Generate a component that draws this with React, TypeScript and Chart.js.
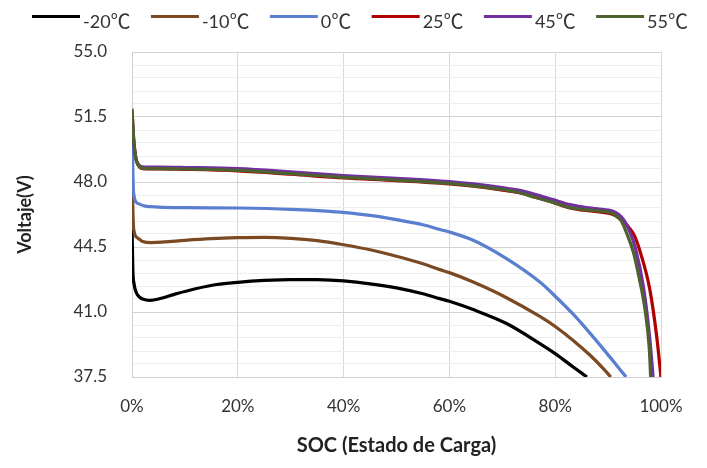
import { useEffect, useRef } from "react";
import { Chart, registerables } from "chart.js";

Chart.register(...registerables);

const FONT = "Lato, 'Noto Sans CJK SC', sans-serif";
const CJK_FONT = "'Noto Sans CJK SC', 'Noto Sans CJK JP', sans-serif";

const seriesLabels = ["-20℃", "-10℃", "0℃", "25℃", "45℃", "55℃"];
const seriesColors = ["#000000", "#7B4A22", "#5B7FD0", "#B00000", "#7030A0", "#4E6230"];

const xTicks = [0, 20, 40, 60, 80, 100];
const yMajorTicks = [37.5, 41.0, 44.5, 48.0, 51.5, 55.0];

const socM20 = [0, 0.15, 0.4, 0.8, 1.5, 2.5, 3.5, 5, 8, 12, 16, 20, 25, 30, 35, 40, 45, 50, 55, 58.2, 60, 64.5, 70.8, 77.1, 80, 83.4, 86];
const voltM20 = [45.6, 43.3, 42.5, 42.05, 41.78, 41.66, 41.63, 41.7, 41.95, 42.25, 42.48, 42.6, 42.7, 42.75, 42.74, 42.67, 42.52, 42.3, 41.98, 41.72, 41.58, 41.13, 40.38, 39.3, 38.76, 38.04, 37.5];

const socM10 = [0, 0.3, 1, 2, 3.7, 6, 10, 15, 20, 25, 30, 35, 40, 45, 50, 55, 58.2, 60, 64.5, 70.8, 77.1, 80, 83.4, 86.6, 89.1, 90.5];
const voltM10 = [48.2, 45.5, 45.0, 44.8, 44.74, 44.77, 44.86, 44.95, 45.0, 45.02, 44.97, 44.84, 44.62, 44.35, 44.0, 43.6, 43.28, 43.12, 42.61, 41.77, 40.76, 40.22, 39.47, 38.67, 37.95, 37.5];

const soc0 = [0, 0.3, 1.1, 2.5, 5, 10, 20, 30, 37.4, 41, 45, 50, 55, 58.2, 60, 64.5, 70.8, 77.1, 80, 83.4, 86.6, 89.7, 92.2, 93.4];
const volt0 = [50.6, 47.4, 46.85, 46.7, 46.65, 46.62, 46.6, 46.53, 46.42, 46.34, 46.2, 45.97, 45.7, 45.44, 45.31, 44.86, 43.87, 42.61, 41.85, 40.88, 39.85, 38.8, 37.92, 37.5];

const soc25 = [0, 0.3, 0.7, 1.2, 2, 5, 10, 20, 30, 40, 50, 60, 65, 70, 73.3, 76, 79.6, 82.8, 85.3, 88, 90.9, 92.5, 93.5, 95, 96, 97.9, 99.2, 100];
const volt25 = [51.85, 50.4, 49.35, 48.9, 48.72, 48.7, 48.68, 48.6, 48.42, 48.22, 48.08, 47.9, 47.76, 47.56, 47.42, 47.2, 46.9, 46.6, 46.48, 46.4, 46.25, 46.0, 45.7, 45.1, 44.3, 42.2, 39.65, 37.5];

const soc45 = [0, 0.3, 0.7, 1.2, 2, 5, 10, 20, 30, 40, 50, 60, 65, 70, 73.3, 76, 79.6, 82.8, 85.3, 88, 90.9, 92, 93, 94, 95.1, 96.7, 97.9, 98.5];
const volt45 = [51.6, 50.2, 49.3, 48.95, 48.82, 48.8, 48.78, 48.72, 48.55, 48.35, 48.2, 48.02, 47.88, 47.7, 47.55, 47.35, 47.05, 46.78, 46.65, 46.55, 46.42, 46.25, 45.95, 45.4, 44.5, 42.3, 39.5, 37.5];

const soc55 = [0, 0.3, 0.7, 1.2, 2, 5, 10, 15, 20, 25, 30, 35, 40, 45, 50, 55, 60, 65, 70, 73.3, 76, 79.6, 82.8, 85.3, 88, 90.9, 91.8, 92.5, 93.5, 94.8, 95.9, 97, 97.8, 98.05];
const volt55 = [51.95, 50.3, 49.3, 48.9, 48.75, 48.72, 48.7, 48.68, 48.63, 48.55, 48.45, 48.35, 48.25, 48.18, 48.1, 48.02, 47.92, 47.78, 47.6, 47.42, 47.19, 46.9, 46.62, 46.52, 46.45, 46.3, 46.1, 45.9, 45.25, 44.2, 42.8, 41.1, 39.0, 37.5];

const socSeries = [socM20, socM10, soc0, soc25, soc45, soc55];
const voltSeries = [voltM20, voltM10, volt0, volt25, volt45, volt55];

const isMajor = (v: number) => yMajorTicks.some((m) => Math.abs(m - v) < 1e-6);

// Legend drawn on the canvas: line sample + label, items spread over the top band.
const LEGEND_LEFT = 32;
const LEGEND_RIGHT = 688;
const LEGEND_LINE = 48;
const LEGEND_GAP = 3;

const legendPlugin = {
  id: "customLegend",
  afterDraw(chart: any) {
    const ctx = chart.ctx as CanvasRenderingContext2D;
    ctx.save();
    ctx.textBaseline = "middle";
    ctx.textAlign = "left";
    const numFont = `18px ${FONT}`;
    const unitFont = `20px ${CJK_FONT}`;
    const parts = chart.data.datasets.map((ds: any) => {
      const label: string = ds.label;
      const idx = label.indexOf("℃");
      const num = idx >= 0 ? label.slice(0, idx) : label;
      const unit = idx >= 0 ? label.slice(idx) : "";
      ctx.font = numFont;
      const wn = ctx.measureText(num).width;
      ctx.font = unitFont;
      const wu = unit ? ctx.measureText(unit).width : 0;
      return { num, unit, wn, wu, color: ds.borderColor };
    });
    const used = parts.reduce((s: number, p: any) => s + LEGEND_LINE + LEGEND_GAP + p.wn + p.wu, 0);
    const spacing = (LEGEND_RIGHT - LEGEND_LEFT - used) / Math.max(1, parts.length - 1);
    let x = LEGEND_LEFT;
    parts.forEach((p: any) => {
      ctx.strokeStyle = p.color;
      ctx.lineWidth = 3;
      ctx.beginPath();
      ctx.moveTo(x, 16.5);
      ctx.lineTo(x + LEGEND_LINE, 16.5);
      ctx.stroke();
      ctx.fillStyle = "#333333";
      const tx = x + LEGEND_LINE + LEGEND_GAP;
      ctx.font = numFont;
      ctx.fillText(p.num, tx, 22);
      if (p.unit) {
        ctx.font = unitFont;
        ctx.fillText(p.unit, tx + p.wn, 21);
      }
      x = tx + p.wn + p.wu + spacing;
    });
    ctx.restore();
  },
};

export default function App() {
  const canvasRef = useRef<HTMLCanvasElement | null>(null);

  useEffect(() => {
    document.body.style.margin = "0";
    if (!canvasRef.current) return;
    const datasets = seriesLabels.map((label, i) => ({
      label,
      data: socSeries[i].map((s, j) => ({ x: s, y: voltSeries[i][j] })),
      borderColor: seriesColors[i],
      backgroundColor: seriesColors[i],
      borderWidth: 3.25,
      pointRadius: 0,
      fill: false,
      cubicInterpolationMode: "monotone" as const,
      order: seriesLabels.length - 1 - i,
    }));
    const chart = new Chart(canvasRef.current, {
      type: "line",
      data: { datasets },
      options: {
        animation: false,
        responsive: false,
        maintainAspectRatio: false,
        layout: { padding: { top: 52, right: 46, left: 0, bottom: 0 } },
        plugins: { legend: { display: false }, tooltip: { enabled: false } },
        scales: {
          x: {
            type: "linear",
            min: 0,
            max: 100,
            afterBuildTicks: (scale: any) => {
              scale.ticks = xTicks.map((v) => ({ value: v }));
            },
            ticks: {
              autoSkip: false,
              maxRotation: 0,
              padding: 19,
              color: "#333333",
              font: { family: FONT, size: 17 },
              callback: (v: any) => `${v}%`,
            },
            grid: { color: "#d9d9d9", lineWidth: 1, drawTicks: false },
            border: { color: "#d0d0d0" },
            title: {
              display: true,
              text: "SOC (Estado de Carga)",
              color: "#222222",
              font: { family: FONT, size: 20, weight: "bold" },
              padding: { top: 0, bottom: 10 },
            },
            afterFit: (scale: any) => {
              scale.height = 91;
            },
          },
          y: {
            type: "linear",
            min: 37.5,
            max: 55,
            ticks: {
              stepSize: 0.7,
              autoSkip: false,
              padding: 25,
              color: "#333333",
              font: { family: FONT, size: 17 },
              callback: (v: any) => (isMajor(Number(v)) ? Number(v).toFixed(1) : ""),
            },
            grid: {
              color: (c: any) => (isMajor(c.tick.value) ? "#d4d4d4" : "#efefef"),
              lineWidth: 1,
              drawTicks: false,
            },
            border: { color: "#d0d0d0" },
            title: {
              display: true,
              text: "Voltaje(V)",
              color: "#222222",
              font: { family: FONT, size: 18, weight: "bold" },
              padding: { top: 14, bottom: 0 },
            },
            afterFit: (scale: any) => {
              scale.width = 132;
            },
          },
        },
      },
      plugins: [legendPlugin],
    });
    return () => chart.destroy();
  }, []);

  return (
    <div style={{ width: 707, height: 468, position: "relative" }}>
      <canvas ref={canvasRef} width={707} height={468} style={{ width: 707, height: 468, display: "block" }} />
    </div>
  );
}
